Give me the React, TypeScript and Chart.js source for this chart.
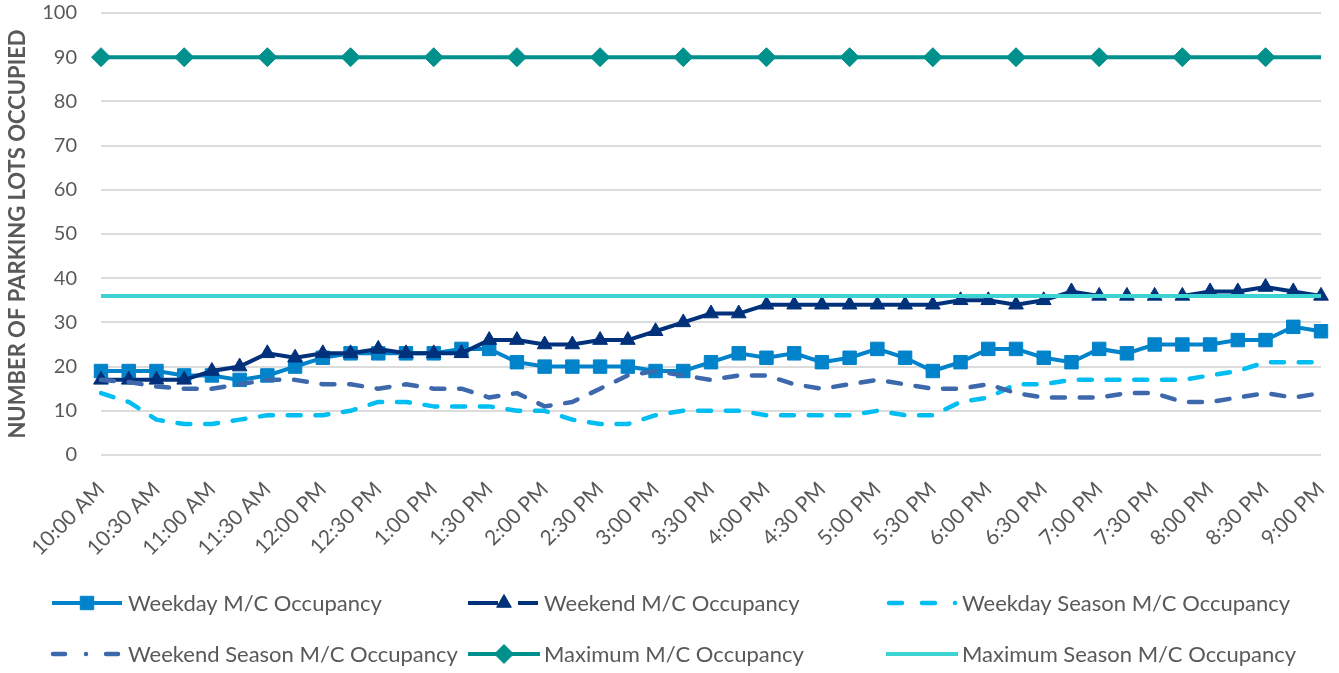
import React, { useEffect, useRef } from 'react';
import { Chart, registerables } from 'chart.js';
import { drawPoint } from 'chart.js/helpers';

Chart.register(...registerables);

const times = [
  '10:00 AM', '10:15 AM', '10:30 AM', '10:45 AM', '11:00 AM', '11:15 AM', '11:30 AM', '11:45 AM',
  '12:00 PM', '12:15 PM', '12:30 PM', '12:45 PM', '1:00 PM', '1:15 PM', '1:30 PM', '1:45 PM',
  '2:00 PM', '2:15 PM', '2:30 PM', '2:45 PM', '3:00 PM', '3:15 PM', '3:30 PM', '3:45 PM',
  '4:00 PM', '4:15 PM', '4:30 PM', '4:45 PM', '5:00 PM', '5:15 PM', '5:30 PM', '5:45 PM',
  '6:00 PM', '6:15 PM', '6:30 PM', '6:45 PM', '7:00 PM', '7:15 PM', '7:30 PM', '7:45 PM',
  '8:00 PM', '8:15 PM', '8:30 PM', '8:45 PM', '9:00 PM',
];

const weekday = [
  19, 19, 19, 18, 18, 17, 18, 20, 22, 23, 23, 23, 23, 24, 24, 21, 20, 20, 20, 20, 19, 19, 21,
  23, 22, 23, 21, 22, 24, 22, 19, 21, 24, 24, 22, 21, 24, 23, 25, 25, 25, 26, 26, 29, 28,
];
const weekend = [
  17, 17, 17, 17, 19, 20, 23, 22, 23, 23, 24, 23, 23, 23, 26, 26, 25, 25, 26, 26, 28, 30, 32,
  32, 34, 34, 34, 34, 34, 34, 34, 35, 35, 34, 35, 37, 36, 36, 36, 36, 37, 37, 38, 37, 36,
];
const weekdaySeason = [
  14, 12, 8, 7, 7, 8, 9, 9, 9, 10, 12, 12, 11, 11, 11, 10, 10, 8, 7, 7, 9, 10, 10, 10, 9, 9, 9,
  9, 10, 9, 9, 12, 13, 16, 16, 17, 17, 17, 17, 17, 18, 19, 21, 21, 21,
];
const weekendSeason = [
  17, 16.5, 15.5, 15, 15, 16, 17, 17, 16, 16, 15, 16, 15, 15, 13, 14, 11, 12, 15, 18, 19, 18, 17,
  18, 18, 16, 15, 16, 17, 16, 15, 15, 16, 14, 13, 13, 13, 14, 14, 12, 12, 13, 14, 13, 14,
];
const maximum = [
  90, 90, 90, 90, 90, 90, 90, 90, 90, 90, 90, 90, 90, 90, 90, 90, 90, 90, 90, 90, 90, 90, 90,
  90, 90, 90, 90, 90, 90, 90, 90, 90, 90, 90, 90, 90, 90, 90, 90, 90, 90, 90, 90, 90, 90,
];
const maximumSeason = [
  36, 36, 36, 36, 36, 36, 36, 36, 36, 36, 36, 36, 36, 36, 36, 36, 36, 36, 36, 36, 36, 36, 36,
  36, 36, 36, 36, 36, 36, 36, 36, 36, 36, 36, 36, 36, 36, 36, 36, 36, 36, 36, 36, 36, 36,
];

const seriesNames = [
  'Weekday M/C Occupancy',
  'Weekend M/C Occupancy',
  'Weekday Season M/C Occupancy',
  'Weekend Season M/C Occupancy',
  'Maximum M/C Occupancy',
  'Maximum Season M/C Occupancy',
];

const yAxisTitle = 'NUMBER OF PARKING LOTS OCCUPIED';

const TEXT = '#595959';
const FONT = 'Lato';

// legend symbol styles (index-matched to datasets)
const legendSymbols = [
  { start: 0, end: 70, dash: [], cap: 'butt', marker: 35 },
  { start: 0, end: 70, dash: [30, 20, 20], cap: 'butt', marker: 36 },
  { start: 3, end: 70, dash: [13, 20, 13, 20, 0.01, 100], cap: 'round', marker: -1 },
  { start: 1, end: 70, dash: [12, 21, 0.01, 20, 12, 100], cap: 'round', marker: -1 },
  { start: 0, end: 72, dash: [], cap: 'butt', marker: 36 },
  { start: 0, end: 72, dash: [], cap: 'butt', marker: -1 },
];

const gridLegend = {
  id: 'gridLegend',
  afterDraw(chart: any) {
    const ctx = chart.ctx;
    const cols = [52, 468, 886];
    const rows = [603, 654];
    chart.data.datasets.forEach((ds: any, i: number) => {
      const x0 = cols[i % 3];
      const y = rows[Math.floor(i / 3)];
      const s = legendSymbols[i];
      ctx.save();
      ctx.strokeStyle = ds.borderColor;
      ctx.lineWidth = ds.borderWidth;
      ctx.lineCap = s.cap;
      ctx.setLineDash(s.dash);
      ctx.beginPath();
      ctx.moveTo(x0 + s.start, y);
      ctx.lineTo(x0 + s.end, y);
      ctx.stroke();
      ctx.setLineDash([]);
      if (s.marker >= 0 && ds.pointStyle) {
        ctx.fillStyle = ds.pointBackgroundColor;
        ctx.strokeStyle = ds.pointBorderColor;
        ctx.lineWidth = 1;
        drawPoint(ctx, { pointStyle: ds.pointStyle, radius: ds.legendRadius, rotation: 0, borderWidth: 1 }, x0 + s.marker, y);
      }
      ctx.fillStyle = TEXT;
      ctx.font = `22px ${FONT}`;
      ctx.textBaseline = 'middle';
      ctx.textAlign = 'left';
      ctx.fillText(ds.label, x0 + 76, y + 1);
      ctx.restore();
    });
  },
};

export default function App() {
  const ref = useRef<HTMLCanvasElement>(null);

  useEffect(() => {
    if (!ref.current) return;
    const chart = new Chart(ref.current, {
      type: 'line',
      data: {
        labels: times,
        datasets: [
          {
            label: seriesNames[0],
            data: weekday,
            borderColor: '#0083CA',
            backgroundColor: '#0083CA',
            borderWidth: 4,
            pointStyle: 'rect',
            pointRadius: 9.5,
            legendRadius: 9.5,
            pointBackgroundColor: '#0083CA',
            pointBorderColor: '#0083CA',
            pointBorderWidth: 1,
            order: 6,
          } as any,
          {
            label: seriesNames[1],
            data: weekend,
            borderColor: '#00317A',
            backgroundColor: '#00317A',
            borderWidth: 4,
            pointStyle: 'triangle',
            pointRadius: 8.5,
            legendRadius: 8.5,
            pointBackgroundColor: '#00317A',
            pointBorderColor: '#00317A',
            pointBorderWidth: 1,
            order: 5,
          } as any,
          {
            label: seriesNames[2],
            data: weekdaySeason,
            borderColor: '#00BDF2',
            borderWidth: 4.5,
            borderDash: [13, 14.75],
            borderCapStyle: 'round',
            borderJoinStyle: 'round',
            pointRadius: 0,
            order: 4,
          } as any,
          {
            label: seriesNames[3],
            data: weekendSeason,
            borderColor: '#3D69AC',
            borderWidth: 4.5,
            borderDash: [13, 14.75],
            borderCapStyle: 'round',
            borderJoinStyle: 'round',
            pointRadius: 0,
            order: 3,
          } as any,
          {
            label: seriesNames[4],
            data: maximum,
            borderColor: '#00918C',
            backgroundColor: '#00918C',
            borderWidth: 4,
            pointStyle: 'rectRot',
            pointRadius: (c: any) => (c.dataIndex % 3 === 0 ? 9.5 : 0),
            legendRadius: 9.5,
            pointBackgroundColor: '#00918C',
            pointBorderColor: '#00918C',
            pointBorderWidth: 1,
            order: 2,
          } as any,
          {
            label: seriesNames[5],
            data: maximumSeason,
            borderColor: '#3DD3D3',
            borderWidth: 4,
            pointRadius: 0,
            order: 1,
          } as any,
        ],
      },
      options: {
        animation: false,
        responsive: false,
        events: [],
        layout: { padding: { left: 0, right: 18, top: 13, bottom: 0 } },
        plugins: {
          legend: { display: false },
          tooltip: { enabled: false },
          title: { display: false },
        },
        scales: {
          x: {
            type: 'category',
            offset: false,
            grid: { display: false, drawTicks: false },
            border: { display: false },
            ticks: {
              autoSkip: false,
              maxRotation: 45,
              minRotation: 45,
              padding: 22,
              color: TEXT,
              font: { family: FONT, size: 21 },
              callback: (v: any, i: number) => (i % 2 === 0 ? times[i] : ''),
            },
            afterFit: (scale: any) => {
              scale.height = 218;
              scale.paddingLeft = 0;
              scale.paddingRight = 0;
              scale.paddingTop = 0;
              scale.paddingBottom = 0;
            },
          },
          y: {
            min: 0,
            max: 100,
            grid: { color: '#DCDCDC', lineWidth: 2, drawTicks: false },
            border: { display: false },
            ticks: {
              stepSize: 10,
              padding: 24,
              color: TEXT,
              font: { family: FONT, size: 20 },
            },
            title: {
              display: true,
              text: yAxisTitle,
              color: TEXT,
              font: { family: FONT, size: 22, weight: 'bold' },
              padding: { top: 5, bottom: 0 },
            },
            afterFit: (scale: any) => {
              scale.width = 101;
              scale.paddingLeft = 0;
              scale.paddingRight = 0;
              scale.paddingTop = 0;
              scale.paddingBottom = 0;
            },
          },
        },
      },
      plugins: [gridLegend],
    });
    return () => chart.destroy();
  }, []);

  return (
    <div style={{ position: 'fixed', left: 0, top: 0, width: 1339, height: 673, background: '#fff' }}>
      <canvas ref={ref} width={1339} height={673} style={{ display: 'block' }} />
    </div>
  );
}
